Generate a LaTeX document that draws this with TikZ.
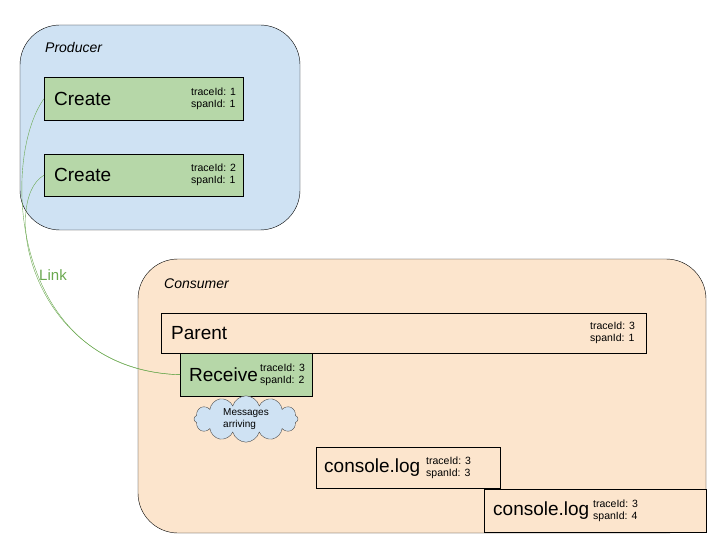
\documentclass[tikz,border=0pt]{standalone}
\usepackage{fontspec}
\setmainfont{Liberation Sans}
\usetikzlibrary{shapes, positioning}

\begin{document}
\begin{tikzpicture}[
        x=1pt, y=-1pt,
        every node/.style={inner sep=0pt},
        group/.style={draw=black, rounded corners=40pt},
        span/.style={draw=black, fill=spanfill, anchor=north west},
        ids/.style={font=\fontsize{10.5}{12}\selectfont, align=left, anchor=west},
        title/.style={font=\fontsize{19}{21}\selectfont, anchor=west},
        link/.style={draw=linkgreen, thin}
    ]
        \definecolor{prodfill}{HTML}{CFE2F3}
        \definecolor{consfill}{HTML}{FCE5CD}
        \definecolor{spanfill}{HTML}{B6D7A8}
        \definecolor{linkgreen}{HTML}{6AA84F}
        \useasboundingbox (0,0) rectangle (720,540);

        % Groups
        \draw[group, fill=prodfill] (20,25) rectangle (300,230);
        \node[anchor=west, font=\itshape\fontsize{14}{16}\selectfont] (prodlbl) at (45,48) {Producer};
        \draw[group, fill=consfill] (138,259) rectangle (706,533);
        \node[anchor=west, font=\itshape\fontsize{14}{16}\selectfont] (conslbl) at (164,284) {Consumer};

        % Producer spans
        \node[span, minimum width=199pt, minimum height=43pt] (cr1) at (44,77) {};
        \node[title] at ([xshift=10pt]cr1.west) {Create};
        \node[ids] at ([xshift=147pt]cr1.west) {traceId: 1\\spanId: 1};
        \node[span, minimum width=199pt, minimum height=42pt] (cr2) at (44,154) {};
        \node[title] at ([xshift=10pt]cr2.west) {Create};
        \node[ids] at ([xshift=147pt]cr2.west) {traceId: 2\\spanId: 1};

        % Consumer spans
        \node[span, fill=consfill, minimum width=485pt, minimum height=40pt] (par) at (161,313) {};
        \node[title] at ([xshift=10pt]par.west) {Parent};
        \node[ids] at ([xshift=429pt]par.west) {traceId: 3\\spanId: 1};
        \node[span, minimum width=132pt, minimum height=43pt] (rcv) at (180,353) {};
        \node[title] at ([xshift=9pt]rcv.west) {Receive};
        \node[ids] at ([xshift=80pt]rcv.west) {traceId: 3\\spanId: 2};
        \node[span, fill=consfill, minimum width=184pt, minimum height=41pt] (log1) at (316,447) {};
        \node[title] at ([xshift=8pt]log1.west) {console.log};
        \node[ids] at ([xshift=110pt]log1.west) {traceId: 3\\spanId: 3};
        \node[span, fill=consfill, minimum width=222pt, minimum height=43pt] (log2) at (484,489) {};
        \node[title] at ([xshift=9pt]log2.west) {console.log};
        \node[ids] at ([xshift=109pt]log2.west) {traceId: 3\\spanId: 4};

        % Cloud
        \node[cloud, cloud puffs=12, aspect=3.2, draw=black!70, fill=prodfill, minimum width=104pt, minimum height=34pt,
            font=\fontsize{10}{11.5}\selectfont, align=left] (msg) at (246,419) {Messages\\arriving};

        % Links
        \draw[link] (cr1.west) .. controls (0,160) and (10,370) .. (rcv.west);
        \draw[link] (cr2.west) .. controls (0,200) and (30,370) .. (rcv.west);
        \node[text=linkgreen, font=\fontsize{15}{17}\selectfont] (lnk) at (53,275) {Link};
    \end{tikzpicture}
\end{document}
